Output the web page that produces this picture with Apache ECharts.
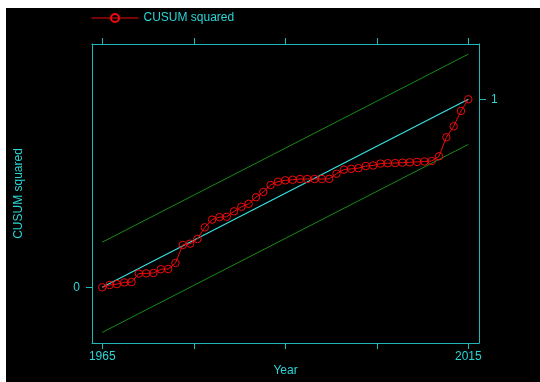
<!DOCTYPE html>
<html>
<head>
<meta charset="utf-8">
<script src="https://cdn.jsdelivr.net/npm/echarts@6/dist/echarts.min.js"></script>
<style>
html,body{margin:0;padding:0;background:#fff;width:540px;height:382px;overflow:hidden;}
#chart{position:absolute;left:6px;top:8px;width:534px;height:374px;}
</style>
</head>
<body>
<div id="chart"></div>
<script>
var years = [1965,1966,1967,1968,1969,1970,1971,1972,1973,1974,1975,1976,1977,1978,1979,1980,1981,1982,1983,1984,1985,1986,1987,1988,1989,1990,1991,1992,1993,1994,1995,1996,1997,1998,1999,2000,2001,2002,2003,2004,2005,2006,2007,2008,2009,2010,2011,2012,2013,2014,2015];
var cusumSq = [0,0.012,0.017,0.026,0.028,0.073,0.074,0.076,0.096,0.097,0.129,0.225,0.232,0.257,0.319,0.360,0.373,0.375,0.404,0.428,0.444,0.479,0.507,0.544,0.562,0.569,0.572,0.576,0.576,0.576,0.576,0.577,0.604,0.626,0.630,0.634,0.645,0.648,0.658,0.660,0.661,0.663,0.665,0.667,0.669,0.672,0.697,0.798,0.856,0.938,1.0];
var lineYears = [1965, 2015];
var expected = [0, 1];
var upperBand = [0.24, 1.24];
var lowerBand = [-0.24, 0.76];
var xTicks = [1965, 1977.5, 1990, 2002.5, 2015];
var xLabels = [1965, 2015];
var yLeftTicks = [0];
var yRightTicks = [1];

function pairs(xs, ys){ return xs.map(function(x,i){ return [x, ys[i]]; }); }
function plain(v){ return String(v); }

var frameColor = '#1fb8b8';
var textColor = '#2ad6d6';
var font = 'Liberation Sans, Arial, Helvetica, sans-serif';
var xMin = 1963.6, xMax = 2016.46, yMin = -0.2963, yMax = 1.2941;

var chart = echarts.init(document.getElementById('chart'), null, {renderer:'canvas'});
chart.setOption({
  backgroundColor: '#000',
  animation: false,
  textStyle: {fontFamily: font},
  legend: {
    left: 85, top: 4, padding: 0,
    itemWidth: 47, itemHeight: 10,
    data: ['CUSUM squared'],
    lineStyle: {width: 1},
    textStyle: {color: textColor, fontSize: 12, fontFamily: font}
  },
  grid: {left: 86, top: 36, right: 61, bottom: 39, outerBoundsMode: 'none', containLabel: false},
  xAxis: [{
    type: 'value', position: 'bottom', min: xMin, max: xMax,
    name: 'Year', nameLocation: 'middle', nameGap: 22, nameMoveOverlap: false,
    nameTextStyle: {color: textColor, fontSize: 12, fontFamily: font},
    axisLine: {show: true, onZero: false, lineStyle: {color: frameColor, width: 1}},
    axisTick: {show: true, length: 6, customValues: xTicks, lineStyle: {color: frameColor}},
    axisLabel: {show: true, customValues: xLabels, formatter: plain, margin: 8, color: textColor, fontSize: 12, fontFamily: font},
    splitLine: {show: false}
  },{
    type: 'value', position: 'top', min: xMin, max: xMax,
    axisLine: {show: true, onZero: false, lineStyle: {color: frameColor, width: 1}},
    axisTick: {show: true, length: 6, customValues: xTicks, lineStyle: {color: frameColor}},
    axisLabel: {show: false},
    splitLine: {show: false}
  }],
  yAxis: [{
    type: 'value', position: 'left', min: yMin, max: yMax,
    name: 'CUSUM squared', nameLocation: 'middle', nameGap: 67, nameRotate: 90, nameMoveOverlap: false,
    nameTextStyle: {color: textColor, fontSize: 12, fontFamily: font},
    axisLine: {show: true, onZero: false, lineStyle: {color: frameColor, width: 1}},
    axisTick: {show: true, length: 6, customValues: yLeftTicks, lineStyle: {color: frameColor}},
    axisLabel: {show: true, customValues: yLeftTicks, formatter: plain, margin: 12, color: textColor, fontSize: 12, fontFamily: font},
    splitLine: {show: false}
  },{
    type: 'value', position: 'right', min: yMin, max: yMax,
    axisLine: {show: true, onZero: false, lineStyle: {color: frameColor, width: 1}},
    axisTick: {show: true, length: 7, customValues: yRightTicks, lineStyle: {color: frameColor}},
    axisLabel: {show: true, customValues: yRightTicks, formatter: plain, margin: 12, color: textColor, fontSize: 12, fontFamily: font},
    splitLine: {show: false}
  }],
  series: [{
    name: 'upper', type: 'line', data: pairs(lineYears, upperBand),
    symbol: 'none', lineStyle: {color: '#168c16', width: 1}, silent: true
  },{
    name: 'lower', type: 'line', data: pairs(lineYears, lowerBand),
    symbol: 'none', lineStyle: {color: '#168c16', width: 1}, silent: true
  },{
    name: 'expected', type: 'line', data: pairs(lineYears, expected),
    symbol: 'none', lineStyle: {color: '#38e0e0', width: 1.2}, silent: true
  },{
    name: 'CUSUM squared', type: 'line', data: pairs(years, cusumSq),
    symbol: 'circle', symbolSize: 7.5,
    lineStyle: {color: '#f00a0a', width: 1},
    itemStyle: {color: 'rgba(0,0,0,0)', borderColor: '#f00a0a', borderWidth: 1},
    silent: true
  }]
});
</script>
</body>
</html>
